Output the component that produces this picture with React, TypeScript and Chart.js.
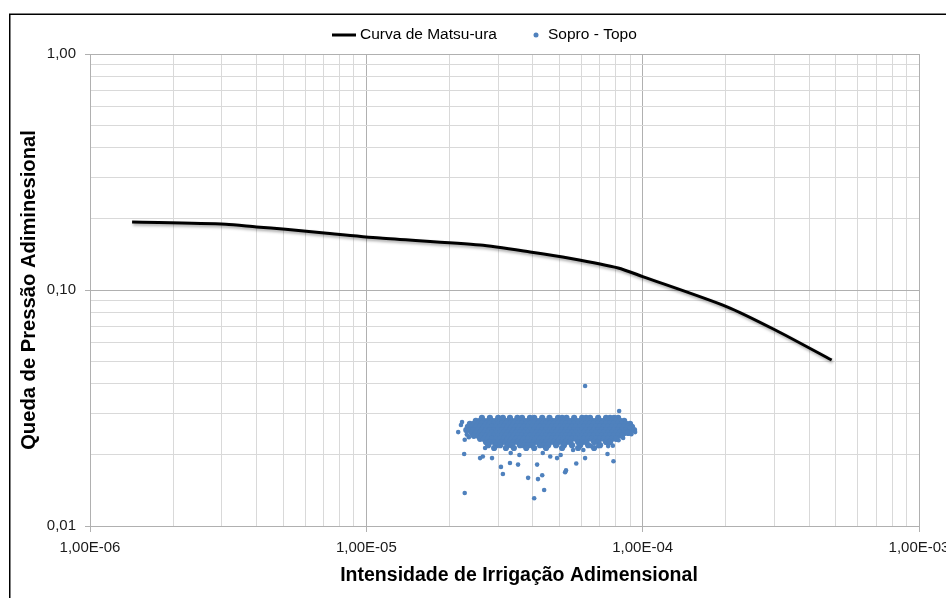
import React, { useEffect, useRef } from 'react';
import { Chart, registerables } from 'chart.js';

Chart.register(...registerables);

// ---- Curva de Matsu-ura ----
const matsuX = [1.42e-6, 3.1e-6, 4.0e-6, 5.1e-6, 7.2e-6, 1.12e-5, 2.58e-5, 3.91e-5, 5.5e-5, 8.15e-5, 1.0e-4, 2.02e-4, 3.02e-4, 4.83e-4];
const matsuY = [0.194, 0.19, 0.185, 0.181, 0.174, 0.166, 0.155, 0.145, 0.136, 0.124, 0.114, 0.0849, 0.0677, 0.0505];

// ---- Sopro - Topo (x values in units of 1e-5) ----
// dense core, read row by row
const sopRowY = [0.0287, 0.0279, 0.0271, 0.0263, 0.0255, 0.0248, 0.0241, 0.0234, 0.0227, 0.022, 0.0214];
const sopRowX = [
  [2.62, 2.8, 3.0, 3.12, 3.31, 3.52, 3.66, 3.91, 4.05, 4.33, 4.6, 4.94, 5.11, 5.3, 5.65, 6.04, 6.24, 6.45, 6.9, 7.37, 7.62, 7.88, 8.15],
  [2.49, 2.58, 2.66, 2.76, 2.85, 2.95, 3.05, 3.15, 3.25, 3.36, 3.48, 3.6, 3.72, 3.85, 3.98, 4.11, 4.25, 4.4, 4.55, 4.7, 4.86, 5.02, 5.19, 5.37, 5.55, 5.74, 5.94, 6.14, 6.35, 6.56, 6.78, 7.01, 7.25, 7.5, 7.75, 8.01, 8.28, 8.57],
  [2.37, 2.45, 2.54, 2.62, 2.71, 2.8, 2.9, 3.0, 3.1, 3.2, 3.31, 3.42, 3.54, 3.66, 3.79, 3.91, 4.05, 4.18, 4.33, 4.47, 4.62, 4.78, 4.94, 5.11, 5.28, 5.46, 5.65, 5.84, 6.04, 6.24, 6.45, 6.67, 6.9, 7.13, 7.37, 7.62, 7.88, 8.15, 8.42, 8.71, 9.0],
  [2.33, 2.41, 2.49, 2.58, 2.66, 2.76, 2.85, 2.95, 3.05, 3.15, 3.25, 3.36, 3.48, 3.6, 3.72, 3.85, 3.98, 4.11, 4.25, 4.4, 4.55, 4.7, 4.86, 5.02, 5.19, 5.37, 5.55, 5.74, 5.94, 6.14, 6.35, 6.56, 6.78, 7.01, 7.25, 7.5, 7.75, 8.01, 8.28, 8.57, 8.86, 9.15],
  [2.3, 2.37, 2.45, 2.54, 2.62, 2.71, 2.8, 2.9, 3.0, 3.1, 3.2, 3.31, 3.42, 3.54, 3.66, 3.79, 3.91, 4.05, 4.18, 4.33, 4.47, 4.62, 4.78, 4.94, 5.11, 5.28, 5.46, 5.65, 5.84, 6.04, 6.24, 6.45, 6.67, 6.9, 7.13, 7.37, 7.62, 7.88, 8.15, 8.42, 8.71, 9.0, 9.31],
  [2.41, 2.49, 2.58, 2.66, 2.76, 2.85, 2.95, 3.05, 3.15, 3.25, 3.36, 3.48, 3.6, 3.72, 3.85, 3.98, 4.11, 4.25, 4.4, 4.55, 4.7, 4.86, 5.02, 5.19, 5.37, 5.55, 5.74, 5.94, 6.14, 6.35, 6.56, 6.78, 7.01, 7.25, 7.5, 7.75, 8.01, 8.28, 8.57, 8.86],
  [2.45, 2.54, 2.62, 2.71, 2.8, 2.9, 3.0, 3.1, 3.2, 3.31, 3.42, 3.54, 3.66, 3.79, 3.91, 4.05, 4.18, 4.33, 4.47, 4.62, 4.78, 4.94, 5.11, 5.28, 5.46, 5.65, 5.84, 6.04, 6.24, 6.45, 6.67, 6.9, 7.13, 7.37, 7.62, 7.88, 8.15, 8.42],
  [2.58, 2.66, 2.76, 2.85, 2.95, 3.05, 3.15, 3.25, 3.36, 3.48, 3.6, 3.72, 3.85, 3.98, 4.11, 4.25, 4.4, 4.55, 4.7, 4.86, 5.02, 5.19, 5.37, 5.55, 5.74, 5.94, 6.14, 6.35, 6.56, 6.78, 7.01, 7.25, 7.5, 7.75, 8.01],
  [2.71, 2.8, 2.9, 3.0, 3.1, 3.2, 3.31, 3.42, 3.54, 3.66, 3.79, 3.91, 4.05, 4.18, 4.33, 4.47, 4.62, 4.78, 4.94, 5.11, 5.28, 5.46, 5.84, 6.04, 6.24, 6.67, 6.9, 7.37, 7.62],
  [2.76, 2.95, 3.05, 3.25, 3.36, 3.6, 3.72, 3.85, 3.98, 4.25, 4.4, 4.55, 4.86, 5.19, 5.55, 5.94, 6.35, 7.01],
  [2.9, 3.2, 3.42, 3.79, 4.05, 4.47, 5.11, 5.84, 6.67],
];
// scattered points around the core
const sopOutX = [6.19, 8.22, 9.39, 2.15, 2.2, 2.27, 2.26, 2.27, 2.58, 2.64, 2.85, 3.07, 3.12, 3.31, 3.54, 3.85, 4.05, 4.15, 4.18, 4.33, 4.4, 4.9, 5.24, 5.28, 5.75, 6.19, 7.46, 7.84, 2.35, 2.31, 2.69, 3.33, 3.58, 5.05, 4.63, 4.35, 8.18, 8.5, 7.8, 7.5, 6.9, 6.5, 5.6, 6.1, 2.22, 8.96, 9.1];
const sopOutY = [0.0392, 0.0307, 0.025, 0.025, 0.0268, 0.0232, 0.0202, 0.0138, 0.0194, 0.0197, 0.0194, 0.0178, 0.0166, 0.0185, 0.0182, 0.016, 0.0131, 0.0182, 0.0158, 0.0164, 0.0142, 0.0194, 0.0169, 0.0172, 0.0184, 0.0194, 0.0202, 0.0188, 0.0238, 0.0244, 0.0214, 0.0204, 0.02, 0.02, 0.0197, 0.0204, 0.0231, 0.0236, 0.0219, 0.0218, 0.0218, 0.0218, 0.021, 0.021, 0.0276, 0.0262, 0.0245];

// ---- Axes ----
const xTickValues = [1e-6, 2e-6, 3e-6, 4e-6, 5e-6, 6e-6, 7e-6, 8e-6, 9e-6, 1e-5, 2e-5, 3e-5, 4e-5, 5e-5, 6e-5, 7e-5, 8e-5, 9e-5, 1e-4, 2e-4, 3e-4, 4e-4, 5e-4, 6e-4, 7e-4, 8e-4, 9e-4, 1e-3];
const xMajor = [1e-6, 1e-5, 1e-4, 1e-3];
const xTickLabels = ['1,00E-06', '1,00E-05', '1,00E-04', '1,00E-03'];
const yTickValues = [0.01, 0.02, 0.03, 0.04, 0.05, 0.06, 0.07, 0.08, 0.09, 0.1, 0.2, 0.3, 0.4, 0.5, 0.6, 0.7, 0.8, 0.9, 1];
const yMajor = [0.01, 0.1, 1];
const yTickLabels = ['0,01', '0,10', '1,00'];

const seriesNames = ['Curva de Matsu-ura', 'Sopro - Topo'];
const xTitle = 'Intensidade de Irrigação Adimensional';
const yTitle = 'Queda de Pressão Adiminesional';

const FONT = "'Liberation Sans', Arial, sans-serif";
const BLUE = '#4F81BD';
const GRID_MINOR = '#d9d9d9';
const GRID_MAJOR = '#b0b0b0';

function majorIndex(list: number[], v: number) {
  for (let i = 0; i < list.length; i++) {
    if (Math.abs(Math.log10(v) - Math.log10(list[i])) < 1e-6) return i;
  }
  return -1;
}

const framePlugin = {
  id: 'frame',
  beforeDraw(chart: any) {
    const ctx = chart.ctx;
    ctx.save();
    ctx.fillStyle = '#ffffff';
    ctx.fillRect(0, 0, chart.width, chart.height);
    ctx.strokeStyle = '#000000';
    ctx.lineWidth = 1.5;
    ctx.strokeRect(9.75, 14.25, chart.width + 20, chart.height + 20);
    ctx.restore();
  },
};

const textPlugin = {
  id: 'legendAndTitle',
  afterDraw(chart: any) {
    const ctx = chart.ctx;
    const y = 35;
    ctx.save();
    // legend
    ctx.font = `15.5px ${FONT}`;
    ctx.textBaseline = 'middle';
    ctx.textAlign = 'left';
    ctx.strokeStyle = '#000000';
    ctx.lineWidth = 3;
    ctx.beginPath();
    ctx.moveTo(332, y);
    ctx.lineTo(356, y);
    ctx.stroke();
    ctx.fillStyle = '#000000';
    ctx.fillText(seriesNames[0], 360, y);
    ctx.fillStyle = BLUE;
    ctx.beginPath();
    ctx.arc(536, y, 2.5, 0, Math.PI * 2);
    ctx.fill();
    ctx.fillStyle = '#000000';
    ctx.fillText(seriesNames[1], 548, y);
    // x axis title
    ctx.font = `bold 19.5px ${FONT}`;
    ctx.textAlign = 'center';
    ctx.fillText(xTitle, 519, 576);
    ctx.restore();
  },
};

const shadowPlugin = {
  id: 'lineShadow',
  beforeDatasetDraw(chart: any, args: any) {
    if (args.index === 0) {
      const ctx = chart.ctx;
      ctx.save();
      ctx.shadowColor = 'rgba(0,0,0,0.35)';
      ctx.shadowBlur = 3;
      ctx.shadowOffsetX = 1;
      ctx.shadowOffsetY = 2;
    }
  },
  afterDatasetDraw(chart: any, args: any) {
    if (args.index === 0) chart.ctx.restore();
  },
};

export default function App() {
  const ref = useRef<HTMLCanvasElement | null>(null);

  useEffect(() => {
    if (!ref.current) return;
    const lineData = matsuX.map((x, i) => ({ x, y: matsuY[i] }));
    const scatterData: { x: number; y: number }[] = [];
    sopRowX.forEach((row, r) => {
      row.forEach((x) => scatterData.push({ x: x * 1e-5, y: sopRowY[r] }));
    });
    const coreCount = scatterData.length;
    sopOutX.forEach((x, i) => scatterData.push({ x: x * 1e-5, y: sopOutY[i] }));

    const gridColor = (list: number[]) => (ctx: any) =>
      ctx.tick && majorIndex(list, ctx.tick.value) >= 0 ? GRID_MAJOR : GRID_MINOR;
    const tickColor = (list: number[]) => (ctx: any) =>
      ctx.tick && majorIndex(list, ctx.tick.value) >= 0 ? GRID_MAJOR : 'rgba(0,0,0,0)';

    const chart = new Chart(ref.current, {
      type: 'scatter',
      data: {
        datasets: [
          {
            label: seriesNames[0],
            data: lineData,
            showLine: true,
            borderColor: '#000000',
            backgroundColor: '#000000',
            borderWidth: 3,
            pointRadius: 0,
            tension: 0.25,
          },
          {
            label: seriesNames[1],
            data: scatterData,
            showLine: false,
            pointRadius: (c: any) => (c.dataIndex < coreCount ? 3.1 : 2.3),
            pointBorderWidth: 0,
            pointBackgroundColor: BLUE,
            backgroundColor: BLUE,
            borderColor: BLUE,
          },
        ],
      },
      options: {
        responsive: false,
        animation: false,
        events: [],
        layout: { padding: { left: 10, right: 27, top: 54, bottom: 0 } },
        plugins: { legend: { display: false }, tooltip: { enabled: false } },
        scales: {
          x: {
            type: 'logarithmic',
            position: 'bottom',
            min: 1e-6,
            max: 1e-3,
            afterBuildTicks: (s: any) => {
              s.ticks = xTickValues.map((v) => ({ value: v, major: majorIndex(xMajor, v) >= 0 }));
            },
            afterFit: (s: any) => {
              s.height = 72;
              s.paddingLeft = 0;
              s.paddingRight = 0;
            },
            ticks: {
              autoSkip: false,
              maxRotation: 0,
              minRotation: 0,
              padding: 7,
              color: '#1a1a1a',
              font: { family: FONT, size: 15 },
              callback: (v: any) => {
                const i = majorIndex(xMajor, Number(v));
                return i >= 0 ? xTickLabels[i] : '';
              },
            },
            grid: { color: gridColor(xMajor), tickColor: tickColor(xMajor), tickLength: 6, lineWidth: 1 },
            border: { color: GRID_MAJOR, width: 1 },
            title: { display: false, text: xTitle },
          },
          y: {
            type: 'logarithmic',
            position: 'left',
            min: 0.01,
            max: 1,
            afterBuildTicks: (s: any) => {
              s.ticks = yTickValues.map((v) => ({ value: v, major: majorIndex(yMajor, v) >= 0 }));
            },
            afterFit: (s: any) => {
              s.width = 80;
              s.paddingTop = 0;
              s.paddingBottom = 0;
            },
            ticks: {
              autoSkip: false,
              padding: 9,
              color: '#1a1a1a',
              font: { family: FONT, size: 15 },
              callback: (v: any) => {
                const i = majorIndex(yMajor, Number(v));
                return i >= 0 ? yTickLabels[i] : '';
              },
            },
            grid: { color: gridColor(yMajor), tickColor: tickColor(yMajor), tickLength: 5, lineWidth: 1 },
            border: { color: GRID_MAJOR, width: 1 },
            title: {
              display: true,
              text: yTitle,
              color: '#000000',
              font: { family: FONT, size: 20.2, weight: 'bold' },
              padding: { top: 7, bottom: 0 },
            },
          },
        },
      },
      plugins: [framePlugin, textPlugin, shadowPlugin],
    } as any);

    return () => chart.destroy();
  }, []);

  return (
    <div style={{ position: 'absolute', left: 0, top: 0, width: 946, height: 598 }}>
      <canvas ref={ref} width={946} height={598} />
    </div>
  );
}
